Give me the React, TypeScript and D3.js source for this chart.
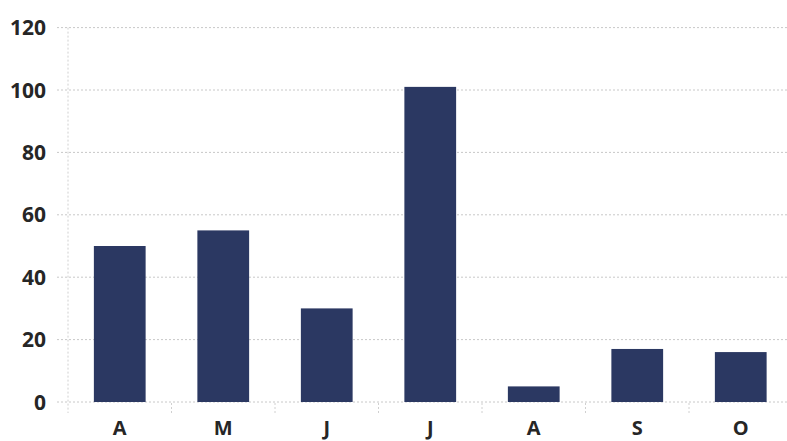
import React, { useRef, useEffect } from "react";
import * as d3 from "d3";

const months = ["A", "M", "J", "J", "A", "S", "O"];
const values = [50, 55, 30, 101, 5, 17, 16];
const yTicks = [0, 20, 40, 60, 80, 100, 120];

const width = 787;
const height = 441;

const App: React.FC = () => {
  const svgRef = useRef<SVGSVGElement | null>(null);

  useEffect(() => {
    const svg = d3.select(svgRef.current);
    svg.selectAll("*").remove();

    const x = d3
      .scaleBand<number>()
      .domain(months.map((_, i) => i))
      .range([68, 792.5])
      .paddingInner(0.5)
      .paddingOuter(0.25);

    const y = d3.scaleLinear().domain([0, 120]).range([402, 27.6]);

    // horizontal dotted gridlines
    svg
      .append("g")
      .selectAll("line")
      .data(yTicks)
      .enter()
      .append("line")
      .attr("x1", 57)
      .attr("x2", width)
      .attr("y1", (d) => y(d))
      .attr("y2", (d) => y(d))
      .attr("stroke", "#c8c8c8")
      .attr("stroke-width", 1)
      .attr("stroke-dasharray", "2,2");

    // left dotted axis line
    svg
      .append("line")
      .attr("x1", 68)
      .attr("x2", 68)
      .attr("y1", y(120))
      .attr("y2", 413)
      .attr("stroke", "#d0d0d0")
      .attr("stroke-dasharray", "2,2");

    // small ticks between categories
    const step = x.step();
    const bounds = d3.range(1, months.length).map((i) => 68 + i * step);
    svg
      .append("g")
      .selectAll("line")
      .data(bounds)
      .enter()
      .append("line")
      .attr("x1", (d) => d)
      .attr("x2", (d) => d)
      .attr("y1", 403)
      .attr("y2", 414)
      .attr("stroke", "#d0d0d0")
      .attr("stroke-dasharray", "2,2");

    // bars
    svg
      .append("g")
      .selectAll("rect")
      .data(values)
      .enter()
      .append("rect")
      .attr("x", (_, i) => x(i) as number)
      .attr("width", x.bandwidth())
      .attr("y", (d) => y(d))
      .attr("height", (d) => y(0) - y(d))
      .attr("fill", "#2b3862");

    // y tick labels
    svg
      .append("g")
      .selectAll("text")
      .data(yTicks)
      .enter()
      .append("text")
      .attr("x", 46)
      .attr("y", (d) => y(d))
      .attr("dy", "0.36em")
      .attr("text-anchor", "end")
      .text((d) => d)
      .style("font-family", "'Open Sans', sans-serif")
      .style("font-weight", "bold")
      .style("font-size", "21px")
      .style("fill", "#262626");

    // x labels
    svg
      .append("g")
      .selectAll("text")
      .data(months)
      .enter()
      .append("text")
      .attr("x", (_, i) => (x(i) as number) + x.bandwidth() / 2)
      .attr("y", 435)
      .attr("text-anchor", "middle")
      .text((d) => d)
      .style("font-family", "'Open Sans', sans-serif")
      .style("font-weight", "bold")
      .style("font-size", "20px")
      .style("fill", "#262626");
  }, []);

  return (
    <div style={{ position: "absolute", left: 0, top: 0 }}>
      <svg ref={svgRef} width={width} height={height} style={{ display: "block", background: "#fff" }} />
    </div>
  );
};

export default App;
